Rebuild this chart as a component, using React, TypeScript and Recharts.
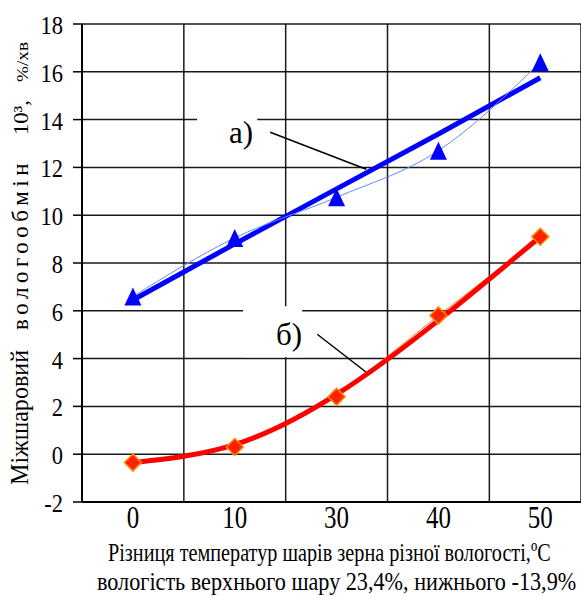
import React from "react";
import {
	LineChart,
	Line,
	XAxis,
	YAxis,
	CartesianGrid,
	ReferenceArea,
	ReferenceLine,
} from "recharts";

const categories = ["0", "10", "30", "40", "50"];
const blueValues = [6.6, 9.05, 10.75, 12.7, 16.4];
const blueTrend = [6.45, 8.8, 11.1, 13.4, 15.75];
const redValues = [-0.35, 0.3, 2.4, 5.8, 9.1];
const redTrend = [-0.35, 0.4, 2.5, 5.6, 9.1];
const yTicks = [-2, 0, 2, 4, 6, 8, 10, 12, 14, 16, 18];
const gridTicks = [0.5, 1.5, 2.5, 3.5];

const data = categories.map((label, i) => ({
	i,
	label,
	blue: blueValues[i],
	blueTrend: blueTrend[i],
	red: redValues[i],
	redTrend: redTrend[i],
}));

const serif = { fontFamily: "'Liberation Serif', 'DejaVu Serif', serif" };
const DOMAIN_X: [number, number] = [-0.5, 4.4];

const renderTriangle = (props: any) => {
	const { cx, cy, index } = props;
	return (
		<polygon
			key={`tri-${index}`}
			points={`${cx},${cy - 9} ${cx + 8.5},${cy + 9} ${cx - 8.5},${cy + 9}`}
			fill="#0000ff"
		/>
	);
};

const renderDiamond = (props: any) => {
	const { cx, cy, index } = props;
	return (
		<polygon
			key={`dia-${index}`}
			points={`${cx},${cy - 8.5} ${cx + 8.5},${cy} ${cx},${cy + 8.5} ${cx - 8.5},${cy}`}
			fill="#ff2200"
			stroke="#ff8a00"
			strokeWidth={1.5}
		/>
	);
};

const YTick = ({ x, y, payload }: any) => (
	<text
		transform={`translate(${x},${y + 10}) scale(0.9,1)`}
		textAnchor="end"
		fontSize={25}
		style={serif}
		fill="#000"
	>
		{payload.value}
	</text>
);

const XTick = ({ x, y, payload }: any) => (
	<text
		transform={`translate(${x},${y + 26}) scale(0.78,1)`}
		textAnchor="middle"
		fontSize={32}
		style={serif}
		fill="#000"
	>
		{categories[payload.value]}
	</text>
);

const XTitle = () => (
	<g fill="#000">
		<text
			transform="translate(108,561) scale(0.778,1)"
			fontSize={26}
			style={serif}
		>
			Різниця температур шарів зерна різної вологості,ºС
		</text>
		<text
			transform="translate(97,590) scale(0.854,1)"
			fontSize={26}
			style={serif}
		>
			вологість верхнього шару 23,4%, нижнього -13,9%
		</text>
	</g>
);

const vText = (y: number, size: number, len: number, s: string) => (
	<text
		transform={`translate(28,${y}) rotate(-90)`}
		fontSize={size}
		textLength={len}
		lengthAdjust="spacingAndGlyphs"
		style={serif}
	>
		{s}
	</text>
);

const YTitle = () => (
	<g fill="#000">
		{vText(485, 25, 135, "Міжшаровий")}
		<text
			transform="translate(28,330) rotate(-90)"
			fontSize={23}
			letterSpacing={4.5}
			style={serif}
		>
			вологообмін
		</text>
		{vText(135, 21, 35, "10³,")}
		{vText(82, 16, 40, "%/хв")}
	</g>
);

const Note = ({ viewBox, text, dx, dy }: any) => (
	<text
		x={viewBox.x + viewBox.width + dx}
		y={viewBox.y + dy}
		textAnchor="end"
		fontSize={31}
		style={serif}
		fill="#000"
	>
		{text}
	</text>
);

export default function App() {
	return (
		<div
			style={{
				position: "absolute",
				left: 0,
				top: 0,
				width: 581,
				height: 596,
				background: "#fff",
				overflow: "hidden",
			}}
		>
			<LineChart
				width={581}
				height={596}
				data={data}
				margin={{ top: 24, right: 0, bottom: 0, left: 0 }}
			>
				<XAxis
					dataKey="i"
					type="number"
					domain={DOMAIN_X}
					ticks={[0, 1, 2, 3, 4]}
					allowDataOverflow
					height={94}
					tickLine={false}
					tickSize={0}
					tickMargin={0}
					tick={<XTick />}
					axisLine={{ stroke: "#000", strokeWidth: 2 }}
					label={<XTitle />}
				/>
				<XAxis
					xAxisId="grid"
					dataKey="i"
					type="number"
					domain={DOMAIN_X}
					ticks={gridTicks}
					allowDataOverflow
					hide
				/>
				<YAxis
					type="number"
					domain={[-2, 18]}
					ticks={yTicks}
					width={82}
					interval={0}
					tickSize={9}
					tickMargin={10}
					tick={<YTick />}
					tickLine={{ stroke: "#000", strokeWidth: 1.5 }}
					axisLine={{ stroke: "#000", strokeWidth: 2 }}
					label={<YTitle />}
				/>
				<CartesianGrid
					xAxisId="grid"
					stroke="#000"
					strokeWidth={1.5}
					strokeOpacity={0.9}
				/>
				<ReferenceArea
					x1={0.63}
					x2={1.22}
					y1={12.72}
					y2={14.14}
					fill="#fff"
					fillOpacity={1}
					stroke="none"
					label={<Note text="а)" dx={-4} dy={27} />}
				/>
				<ReferenceArea
					x1={1.082}
					x2={1.662}
					y1={4.06}
					y2={6.19}
					fill="#fff"
					fillOpacity={1}
					stroke="none"
					label={<Note text="б)" dx={0} dy={39} />}
				/>
				<ReferenceLine
					segment={[
						{ x: 1.348, y: 13.47 },
						{ x: 2.291, y: 11.92 },
					]}
					stroke="#000"
					strokeWidth={1.5}
				/>
				<ReferenceLine
					segment={[
						{ x: 1.81, y: 5.02 },
						{ x: 2.291, y: 3.43 },
					]}
					stroke="#000"
					strokeWidth={1.5}
				/>
				<Line
					dataKey="blueTrend"
					type="linear"
					stroke="#0000ff"
					strokeWidth={5}
					dot={false}
					isAnimationActive={false}
				/>
				<Line
					dataKey="blue"
					type="monotone"
					stroke="#5f8dff"
					strokeWidth={1}
					dot={renderTriangle}
					activeDot={false}
					isAnimationActive={false}
				/>
				<Line
					dataKey="red"
					type="linear"
					stroke="#ff7a1a"
					strokeWidth={1}
					dot={false}
					isAnimationActive={false}
				/>
				<Line
					dataKey="redTrend"
					type="natural"
					stroke="#ff0000"
					strokeWidth={5}
					dot={false}
					isAnimationActive={false}
				/>
				<Line
					dataKey="red"
					type="linear"
					stroke="none"
					dot={renderDiamond}
					activeDot={false}
					isAnimationActive={false}
				/>
			</LineChart>
		</div>
	);
}
